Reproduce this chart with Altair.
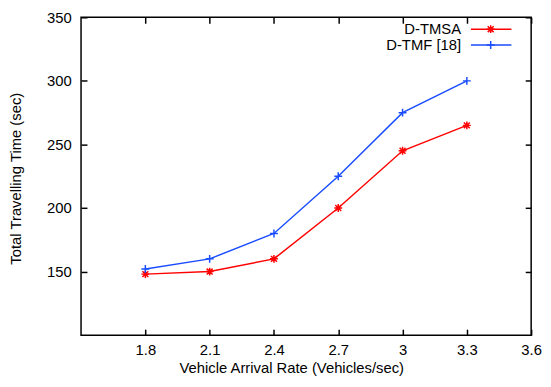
import altair as alt
import pandas as pd

rates = [1.8, 2.1, 2.4, 2.7, 3.0, 3.3]
tmsa = [148, 150, 160, 200, 245, 265]
tmf = [152, 160, 180, 225, 275, 300]
series = ["D-TMSA", "D-TMF [18]"]
colors = ["#ff0000", "#1a4dff"]
x_ticks = [1.8, 2.1, 2.4, 2.7, 3.0, 3.3, 3.6]
y_ticks = [150, 200, 250, 300, 350]

PLUS = "M-1,0L1,0M0,-1L0,1"
STAR = "M-1,0L1,0M0,-1L0,1M-0.75,-0.75L0.75,0.75M-0.75,0.75L0.75,-0.75"
shapes = [STAR, PLUS]
FONT = "Liberation Sans"
FS = 15
W, H = 456, 322

df = pd.DataFrame({
    "rate": rates * 2,
    "time": tmsa + tmf,
    "series": [series[0]] * len(rates) + [series[1]] * len(rates),
})

xs = alt.Scale(domain=[1.5, 3.6], nice=False, zero=False)
ys = alt.Scale(domain=[100, 350], nice=False, zero=False)
cs = alt.Scale(domain=series, range=colors)
ss = alt.Scale(domain=series, range=shapes)

text_style = dict(labelFont=FONT, titleFont=FONT, labelFontSize=FS, titleFontSize=FS,
                  labelColor="black", titleColor="black", titleFontWeight="normal",
                  labelFontWeight="normal", labelFlush=False, labelOverlap=False)

main_x = alt.Axis(values=x_ticks, format="~g", tickSize=0, domain=False, grid=False,
                  labelPadding=8, title="Vehicle Arrival Rate (Vehicles/sec)",
                  titleX=213, titleY=33, titleBaseline="middle", titleAlign="center",
                  **text_style)
main_y = alt.Axis(values=y_ticks, tickSize=0, domain=False, grid=False,
                  labelPadding=10, title="Total Travelling Time (sec)",
                  titleX=-66, titleY=163, titleBaseline="middle", titleAlign="center",
                  **text_style)

line = alt.Chart(df).mark_line(strokeWidth=1.5).encode(
    x=alt.X("rate:Q", scale=xs, axis=main_x),
    y=alt.Y("time:Q", scale=ys, axis=main_y),
    color=alt.Color("series:N", scale=cs, legend=None),
    detail="series:N",
)

pts = alt.Chart(df).mark_point(filled=False, strokeWidth=1.5, size=64, opacity=1).encode(
    x=alt.X("rate:Q", scale=xs, axis=None),
    y=alt.Y("time:Q", scale=ys, axis=None),
    color=alt.Color("series:N", scale=cs, legend=None),
    shape=alt.Shape("series:N", scale=ss, legend=None),
)

def tick_axis(orient, vals):
    return alt.Axis(orient=orient, values=vals, offset=-6, tickSize=6, tickWidth=1.5,
                    tickColor="black", labels=False, domain=False, grid=False, title=None)

ticks_bl = alt.Chart(df).mark_point(opacity=0).encode(
    x=alt.X("rate:Q", scale=xs, axis=tick_axis("bottom", x_ticks)),
    y=alt.Y("time:Q", scale=ys, axis=tick_axis("left", y_ticks)),
)
ticks_tr = alt.Chart(df).mark_point(opacity=0).encode(
    x=alt.X("rate:Q", scale=xs, axis=tick_axis("top", x_ticks)),
    y=alt.Y("time:Q", scale=ys, axis=tick_axis("right", y_ticks)),
)

legend_layers = []
for i, (name, col, shp) in enumerate(zip(series, colors, shapes)):
    yy = 12 + 16 * i
    one = pd.DataFrame({"series": [name]})
    legend_layers.append(
        alt.Chart(one).mark_text(align="right", baseline="middle", font=FONT, fontSize=FS,
                                 fontWeight="normal", color="black").encode(
            x=alt.value(385), y=alt.value(yy), text="series:N"))
    legend_layers.append(
        alt.Chart(one).mark_rule(color=col, strokeWidth=1.5).encode(
            x=alt.value(395), x2=alt.value(436), y=alt.value(yy)))
    legend_layers.append(
        alt.Chart(one).mark_point(filled=False, strokeWidth=1.5, size=64, color=col, shape=shp, opacity=1).encode(
            x=alt.value(415), y=alt.value(yy)))

chart = alt.layer(line, pts, ticks_bl, ticks_tr, *legend_layers).resolve_axis(
    x="independent", y="independent"
).properties(
    width=W, height=H,
    autosize=alt.AutoSizeParams(type="none"),
    padding={"left": 74, "top": 7, "right": 12, "bottom": 42},
).configure_view(
    stroke="black", strokeWidth=1.5
)

chart.save("out.html", embed_options={"renderer": "svg", "actions": False})
